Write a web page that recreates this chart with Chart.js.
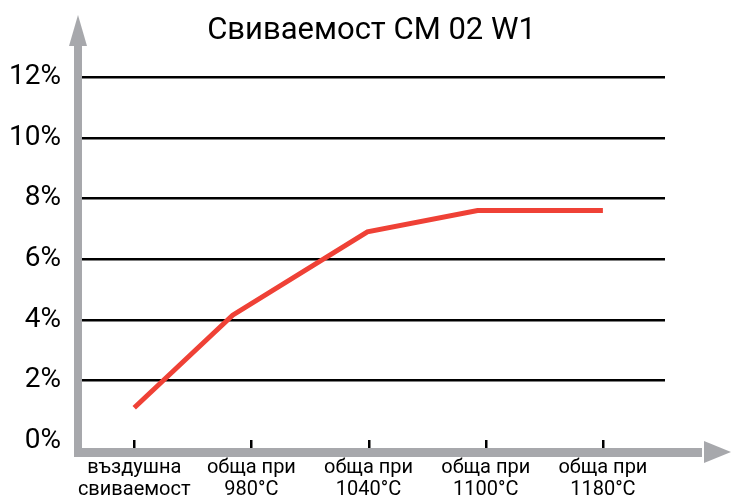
<!DOCTYPE html>
<html>
<head>
<meta charset="utf-8">
<script src="https://cdn.jsdelivr.net/npm/chart.js@4"></script>
<style>
  html, body { margin: 0; padding: 0; background: #fff; }
  #wrap { width: 732px; height: 502px; }
</style>
</head>
<body>
<div id="wrap"><canvas id="grafico"></canvas></div>
<script>
// categories along the x axis (two lines each)
var categorias = [
  ["въздушна", "свиваемост"],
  ["обща при", "980°C"],
  ["обща при", "1040°C"],
  ["обща при", "1100°C"],
  ["обща при", "1180°C"]
];
// where each point sits along x (in category units)
var posiciones = [0, 0.84, 1.99, 2.93, 4];
// shrinkage in %
var valores = [1.1, 4.15, 6.9, 7.6, 7.6];
var ticksY = [0, 2, 4, 6, 8, 10, 12];

var gris = "#a7a8ac";

// grey axes with arrows and the small black ticks on the x axis
var ejes = {
  id: "ejes",
  beforeDatasetsDraw: function (chart) {
    var c = chart.ctx;
    var a = chart.chartArea;
    var x0 = a.left;
    var y0 = a.bottom;
    c.save();
    c.fillStyle = gris;
    // vertical axis
    c.fillRect(x0 - 4, 45, 8, y0 - 45 + 5);
    c.beginPath();
    c.moveTo(x0, 15);
    c.lineTo(x0 + 9, 46);
    c.lineTo(x0 - 9, 46);
    c.closePath();
    c.fill();
    // horizontal axis
    c.fillRect(x0 - 4, y0 - 4, 706 - x0, 9);
    c.beginPath();
    c.moveTo(731, y0);
    c.lineTo(704, y0 - 11);
    c.lineTo(704, y0 + 11);
    c.closePath();
    c.fill();
    // tick marks
    c.fillStyle = "#000";
    var sx = chart.scales.x;
    for (var i = 0; i < categorias.length; i++) {
      var px = Math.round(sx.getPixelForValue(i));
      c.fillRect(px - 1, y0 - 12, 2.5, 8);
    }
    c.restore();
  }
};

document.addEventListener("DOMContentLoaded", function () {
  var ctx = document.getElementById("grafico").getContext("2d");

  var puntos = valores.map(function (v, i) {
    return { x: posiciones[i], y: v };
  });

  new Chart(ctx, {
    type: "line",
    data: {
      datasets: [
        {
          data: puntos,
          borderColor: "#ef4136",
          borderWidth: 5,
          pointRadius: 0,
          tension: 0,
          borderCapStyle: "butt"
        }
      ]
    },
    options: {
      responsive: true,
      maintainAspectRatio: false,
      animation: false,
      layout: { padding: { left: 0, right: 67, top: 0, bottom: 0 } },
      plugins: {
        legend: { display: false },
        tooltip: { enabled: false },
        title: {
          display: true,
          fullSize: false,
          text: "Свиваемост CM 02 W1",
          color: "#000",
          font: { family: "Roboto", size: 31, weight: "normal" },
          padding: { top: 13, bottom: 27 }
        }
      },
      scales: {
        x: {
          type: "linear",
          min: -0.48,
          max: 4.53,
          border: { display: false },
          grid: { display: false, drawTicks: false },
          afterFit: function (s) { s.height = 50; },
          afterBuildTicks: function (s) {
            s.ticks = categorias.map(function (c, i) { return { value: i }; });
          },
          ticks: {
            padding: 5,
            color: "#000",
            maxRotation: 0,
            autoSkip: false,
            font: { family: "Roboto", size: 20, lineHeight: 1.1 },
            callback: function (v) { return categorias[v]; }
          }
        },
        y: {
          min: -0.36,
          max: 12,
          border: { display: false },
          afterFit: function (s) { s.width = 78; },
          afterBuildTicks: function (s) {
            s.ticks = ticksY.map(function (t) { return { value: t }; });
          },
          grid: {
            drawTicks: false,
            lineWidth: 2.5,
            color: function (c) {
              return c.tick && c.tick.value === 0 ? "rgba(0,0,0,0)" : "#000";
            }
          },
          ticks: {
            padding: 17,
            color: "#000",
            font: { family: "Roboto", size: 28 },
            callback: function (v) { return v + "%"; }
          }
        }
      }
    },
    plugins: [ejes]
  });
});
</script>
</body>
</html>
